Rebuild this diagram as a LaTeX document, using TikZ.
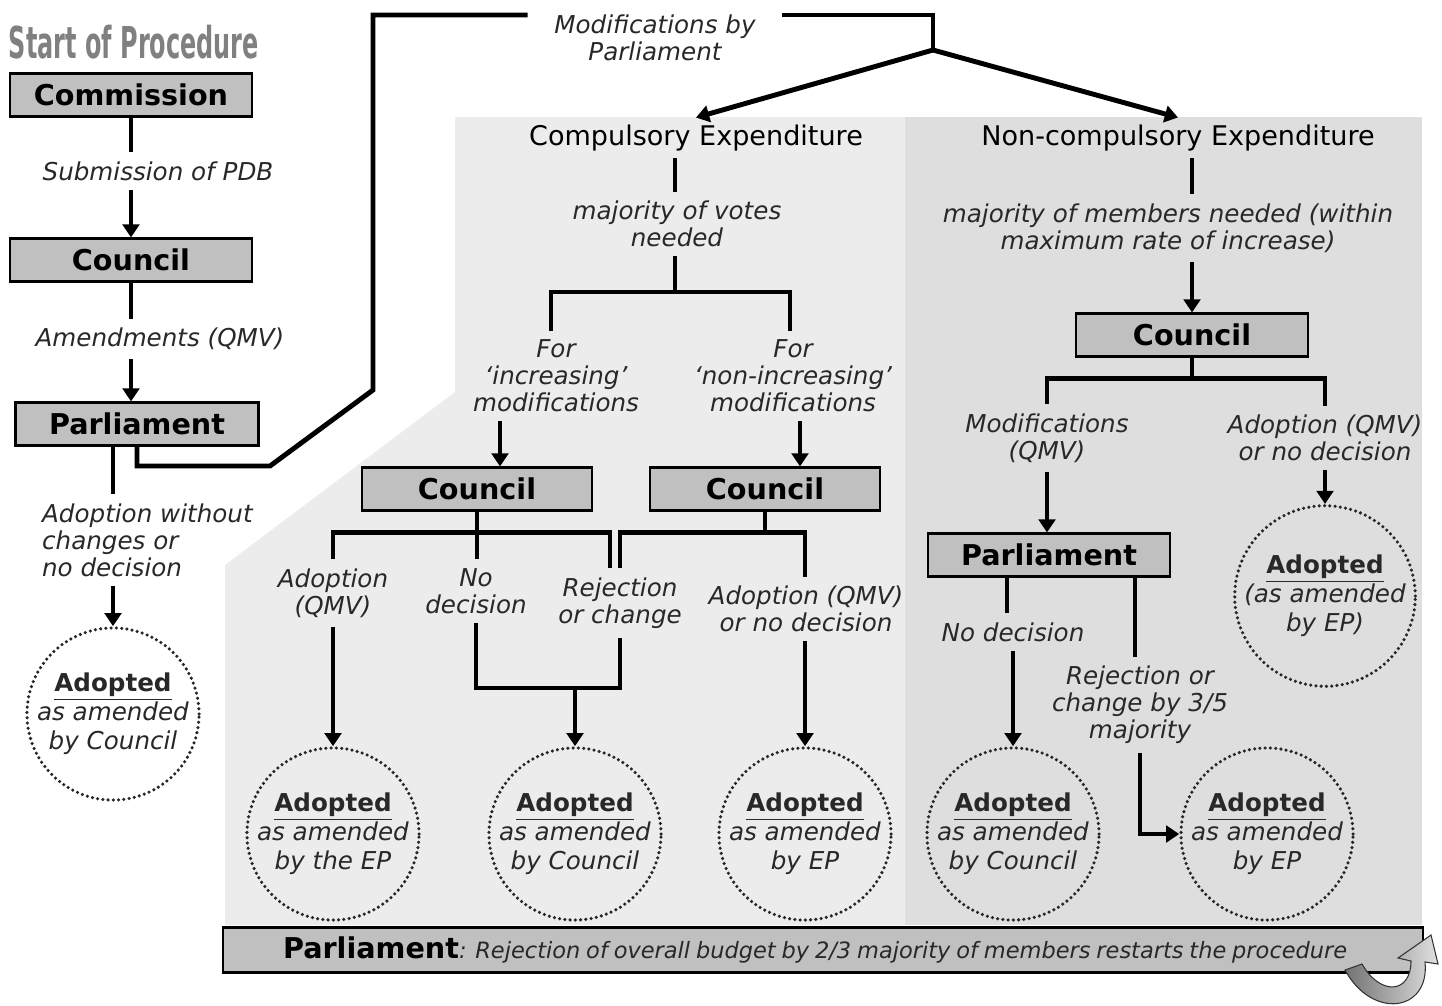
\documentclass[tikz,border=0pt]{standalone}
\usepackage{fontspec}
\setmainfont{DejaVu Sans}
\usepackage{graphicx}
\usetikzlibrary{positioning}
\usetikzlibrary{arrows.meta}
\usetikzlibrary{calc}

\definecolor{boxgray}{RGB}{192,192,192}
\definecolor{lightzone}{RGB}{236,236,236}
\definecolor{darkzone}{RGB}{222,222,222}
\definecolor{titlegray}{RGB}{128,128,128}
\definecolor{inkgray}{RGB}{40,40,40}

\tikzset{
  box/.style={draw=black, line width=1.2pt, fill=boxgray, minimum width=#1, minimum height=0.86cm,
    inner sep=0pt, font=\fontsize{16.3}{19}\selectfont\bfseries},
  box/.default=4.84cm,
  lab/.style={align=center, inner sep=5pt, text=inkgray, font=\fontsize{14}{15.4}\selectfont\itshape},
  zonehead/.style={inner sep=4pt, font=\fontsize{15.4}{18}\selectfont},
  adopted/.style={circle, draw=black!85, line width=2pt, line cap=round, dash pattern=on 0pt off 3pt,
    minimum size=3.44cm, inner sep=0pt, align=center, text=inkgray, font=\fontsize{14}{16.4}\selectfont},
  conn/.style={line width=2.8pt},
  arr/.style={conn, -{Triangle[width=9.5pt,length=7.5pt]}}
}

\newcommand{\adtxt}[2]{\underline{\textbf{Adopted}}\\\textit{#1}\\\textit{#2}}

\begin{document}
\begin{tikzpicture}[x=0.02cm, y=-0.02cm]
\useasboundingbox (0,0) rectangle (1442,1005);

% background zones
\fill[lightzone] (455,117) -- (905,117) -- (905,925) -- (225,925) -- (225,565) -- (455,392) -- cycle;
\fill[darkzone] (905,117) rectangle (1422,925);

% start of procedure
\node[text=titlegray] (title) at (134,42) {\scalebox{0.545}[1]{\fontsize{25}{25}\selectfont\bfseries Start of Procedure}};

\node[box] (com) at (131,95) {Commission};
\node[lab] (sub) at (158,171) {Submission of PDB};
\node[box] (cou1) at (131,260) {Council};
\node[lab] (amd) at (160,339) {Amendments (QMV)};
\node[box=4.86cm] (par1) at (137,424) {Parliament};
\node[lab, align=left, anchor=west] (adw) at (33,540) {Adoption without\\changes or\\no decision};
\node[adopted] (ad1) at (113,714) {\adtxt{as amended}{by Council}};

\draw[conn] (com) -- (com |- sub.north);
\draw[arr] (com |- sub.south) -- (cou1);
\draw[conn] (cou1) -- (cou1 |- amd.north);
\draw[arr] (cou1 |- amd.south) -- (cou1 |- par1.north);
\draw[conn] (ad1 |- par1.south) -- (ad1 |- adw.north);
\draw[arr] (ad1 |- adw.south) -- (ad1);

% modifications by parliament
\node[lab, inner xsep=15pt, inner ysep=2pt] (mods) at (655,38) {Modifications by\\Parliament};
\coordinate (mtop) at (655,15);
\coordinate (bend1) at (270,466);
\coordinate (bend2) at (373,390);
\coordinate (fork) at (933,50);
\draw[conn] (par1.south) |- (bend1) -- (bend2) |- (mods.west |- mtop);
\draw[conn] (mods.east |- mtop) -| (fork);

\node[zonehead] (ce) at (696,138) {Compulsory Expenditure};
\node[zonehead] (nce) at (1178,138) {Non-compulsory Expenditure};
\draw[arr] (fork) -- (ce.north);
\draw[arr] (fork) -- (nce.north);

% compulsory expenditure
\node[lab] (mv) at (677,224) {majority of votes\\needed};
\coordinate (cf) at (675,292);
\node[lab] (inc) at (556,376) {For\\‘increasing’\\modifications};
\node[lab] (ninc) at (793,376) {For\\‘non-increasing’\\modifications};
\node[box=4.6cm] (cil) at (477,489) {Council};
\node[box=4.6cm] (cir) at (765,489) {Council};

\draw[conn] (ce.south -| cf) -- (mv.north -| cf);
\draw[conn] (mv.south -| cf) -- (cf);
\draw[conn] ($(inc.north)+(-5,0)$) |- (cf) -| ($(ninc.north)+(-3,0)$);
\draw[arr] ($(inc.south)+(-56,0)$) -- ($(cil.north)+(23,0)$);
\draw[arr] ($(ninc.south)+(7,0)$) -- ($(cir.north)+(35,0)$);

\node[lab] (adq) at (333,593) {Adoption\\(QMV)};
\node[lab] (nd) at (476,591) {No\\decision};
\node[lab] (rej) at (620,603) {Rejection\\or change};
\node[lab] (adn) at (806,609) {Adoption (QMV)\\or no decision};

\draw[conn] (cil.south) -- ++(0,21) coordinate (lf);
\draw[conn] (adq.north) |- (lf) -| ($(rej.north)+(-10,0)$);
\draw[conn] (lf) -- (nd.north -| lf);
\draw[conn] (cir.south) -- ++(0,21) coordinate (rf);
\draw[conn] (rej.north) |- (rf) -| (adn.north -| 805,0);

\node[adopted] (c1) at (333,834) {\adtxt{as amended}{by the EP}};
\node[adopted] (c2) at (575,834) {\adtxt{as amended}{by Council}};
\node[adopted] (c3) at (805,834) {\adtxt{as amended}{by EP}};

\coordinate (jn) at (575,688);
\draw[arr] (adq.south) -- (c1);
\draw[conn] (nd.south) |- (jn) -| (rej.south);
\draw[arr] (jn) -- (c2);
\draw[arr] (adn.south -| c3) -- (c3);

% non-compulsory expenditure
\node[lab] (mm) at (1168,228) {majority of members needed (within\\maximum rate of increase)};
\node[box=4.64cm] (cn) at (1192,335) {Council};
\draw[conn] (nce.south -| cn) -- (mm.north -| cn);
\draw[arr] (mm.south -| cn) -- (cn);

\node[lab] (modq) at (1047,438) {Modifications\\(QMV)};
\node[lab] (adnd) at (1325,438) {Adoption (QMV)\\or no decision};
\draw[conn] (cn.south) -- ++(0,21) coordinate (nf);
\draw[conn] (modq.north) |- (nf) -| (adnd.north);

\node[box] (pn) at (1049,555) {Parliament};
\node[adopted] (c6) at (1325,596) {\underline{\textbf{Adopted}}\\\textit{(as amended}\\\textit{by EP)}};
\draw[arr] (modq.south) -- (modq.south |- pn.north);
\draw[arr] (adnd.south) -- (c6);

\node[lab] (nd2) at (1013,632) {No decision};
\node[lab] (rejt) at (1140,705) {Rejection or\\change by 3/5\\majority};
\node[adopted] (c4) at (1013,834) {\adtxt{as amended}{by Council}};
\node[adopted] (c5) at (1267,834) {\adtxt{as amended}{by EP}};

\draw[conn] ($(pn.south -| nd2)+(-6,0)$) -- ($(nd2.north)+(-6,0)$);
\draw[conn] ($(pn.south -| rejt)+(-5,0)$) -- ($(rejt.north)+(-5,0)$);
\draw[arr] (nd2.south) -- (c4);
\draw[arr] (rejt.south) |- (c5.west);

% overall rejection
\node[draw=black, line width=1.2pt, fill=boxgray, minimum width=24cm, minimum height=0.9cm,
  text width=21.6cm, inner xsep=1.2cm, align=left, anchor=west] (bar) at (222,950)
  {{\fontsize{16.3}{19}\selectfont\bfseries Parliament}{\fontsize{12.8}{14}\selectfont\itshape\color{inkgray}: Rejection of overall budget by 2/3 majority of members restarts the procedure}};

\shade[left color=black!55, right color=black!12, draw=black!80, line width=0.6pt]
  (1345,970) .. controls (1372,1020) and (1430,1012) .. (1425,962)
  -- (1438,964) -- (1431,935) -- (1398,958) -- (1411,961)
  .. controls (1411,994) and (1380,996) .. (1362,964) -- cycle;

\end{tikzpicture}
\end{document}
